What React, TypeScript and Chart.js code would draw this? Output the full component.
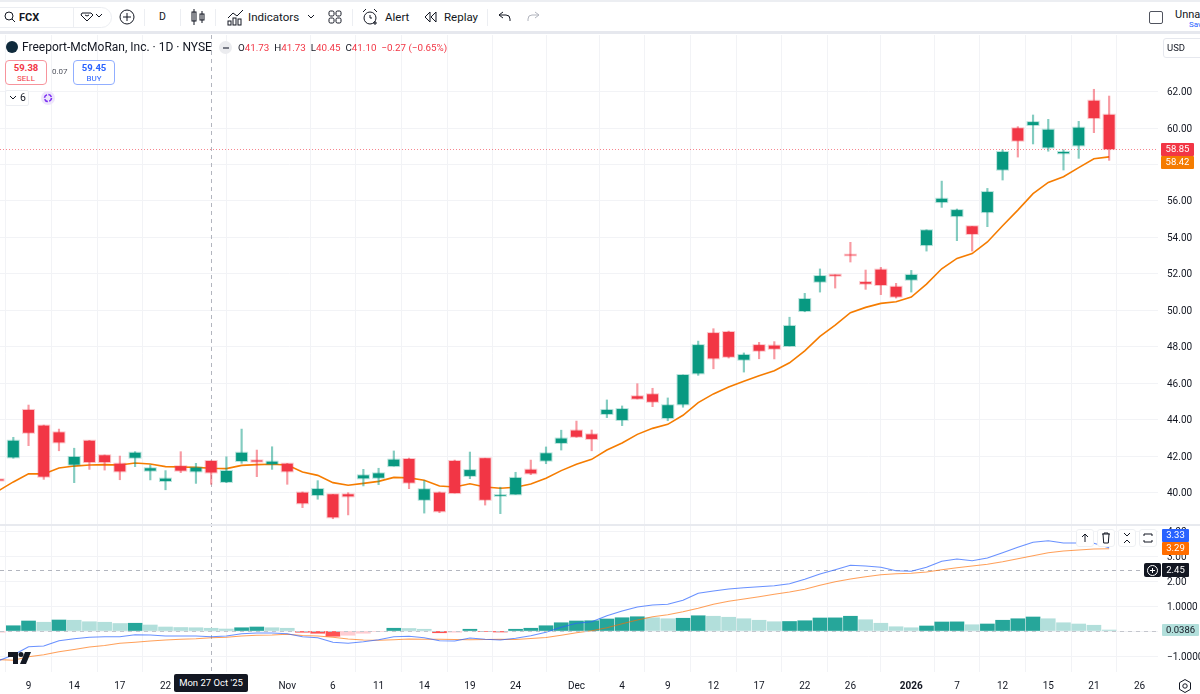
import React, { useEffect, useRef } from "react";
import { Chart, registerables } from "chart.js";

Chart.register(...registerables);

const opens = [40.72,41.93,44.53,43.67,43.30,41.53,42.84,42.04,41.58,41.91,41.20,40.63,41.44,41.16,41.73,40.58,41.73,41.76,41.56,41.58,39.99,39.86,39.90,39.90,40.78,40.81,41.45,41.84,39.60,39.99,41.73,40.91,41.88,39.82,39.90,41.25,41.75,42.72,43.40,43.19,44.31,43.98,45.28,45.39,44.09,44.84,46.54,48.75,48.81,47.29,48.09,48.06,48.04,49.96,51.57,51.95,53.05,51.55,52.23,51.29,51.68,53.58,55.94,55.17,54.61,55.39,57.72,59.99,60.17,58.94,58.62,59.05,61.50,60.73];
const highs = [40.75,43.03,44.80,43.70,43.48,42.43,42.86,42.06,42.00,42.24,41.51,41.20,42.24,41.60,41.73,41.96,43.48,42.33,42.51,41.60,40.03,40.65,39.90,39.99,41.27,41.33,42.28,41.89,40.65,40.03,41.78,42.22,41.88,40.29,41.11,41.78,42.50,43.42,43.92,43.43,45.08,44.75,45.97,45.72,45.19,46.45,48.31,48.99,48.86,47.66,48.24,48.28,49.62,50.93,52.27,51.95,53.73,52.21,52.36,51.48,52.19,54.42,57.09,55.56,54.61,56.69,58.81,60.08,60.72,60.48,58.81,60.37,62.13,61.76];
const lows = [40.63,41.88,42.57,40.72,42.29,40.54,41.27,41.23,40.70,41.42,40.69,40.15,41.09,40.50,40.45,40.54,41.60,40.87,41.27,40.45,39.17,39.63,38.56,38.77,40.36,40.43,41.45,40.21,38.87,38.89,39.97,40.76,39.31,38.84,39.90,40.98,41.58,42.33,43.03,42.29,44.11,43.67,45.13,44.71,43.94,44.68,46.43,46.79,47.38,46.61,47.34,47.33,48.04,49.92,51.00,51.22,52.65,51.15,50.86,50.67,51.00,53.25,55.65,53.82,53.25,54.59,57.15,58.41,59.13,58.73,57.70,58.34,59.75,58.23];
const closes = [40.66,42.84,43.28,40.87,42.75,41.95,41.67,41.67,41.16,42.18,41.33,40.76,41.20,41.36,41.10,41.18,42.18,41.70,41.69,41.16,39.41,40.19,38.64,39.79,40.94,41.05,41.80,40.54,40.18,38.97,39.97,41.23,39.60,39.86,40.80,41.05,42.15,42.96,43.06,42.94,44.53,44.58,45.15,44.98,44.79,46.45,48.09,47.36,47.45,47.55,47.78,47.89,49.14,50.62,51.88,51.90,53.02,51.46,51.39,50.75,51.94,54.39,56.12,55.50,54.19,56.49,58.69,59.31,60.33,59.91,58.69,60.02,60.55,58.85];
const ema = [40.08,40.58,41.03,41.02,41.34,41.45,41.51,41.53,41.51,41.62,41.56,41.42,41.40,41.38,41.33,41.31,41.49,41.53,41.55,41.51,41.12,40.94,40.54,40.40,40.50,40.61,40.83,40.80,40.67,40.36,40.30,40.48,40.30,40.23,40.29,40.47,40.78,41.20,41.55,41.82,42.33,42.72,43.19,43.52,43.74,44.24,44.93,45.41,45.79,46.10,46.41,46.68,47.12,47.77,48.57,49.19,49.87,50.16,50.38,50.47,50.73,51.44,52.28,52.85,53.11,53.75,54.64,55.50,56.40,57.02,57.33,57.83,58.32,58.42];
const macd = [-1.19,-0.96,-0.63,-0.60,-0.39,-0.31,-0.25,-0.23,-0.23,-0.15,-0.16,-0.20,-0.20,-0.20,-0.23,-0.20,-0.11,-0.08,-0.08,-0.11,-0.23,-0.27,-0.45,-0.49,-0.43,-0.35,-0.23,-0.21,-0.27,-0.39,-0.40,-0.28,-0.33,-0.36,-0.29,-0.19,-0.05,0.15,0.31,0.37,0.61,0.80,0.96,1.04,1.07,1.23,1.51,1.60,1.68,1.73,1.77,1.81,1.89,2.07,2.28,2.45,2.63,2.60,2.55,2.41,2.39,2.55,2.79,2.88,2.81,2.92,3.13,3.35,3.55,3.61,3.52,3.52,3.51,3.33];
const signal = [-1.14,-1.17,-1.03,-0.95,-0.83,-0.74,-0.64,-0.58,-0.49,-0.45,-0.40,-0.36,-0.33,-0.31,-0.27,-0.25,-0.20,-0.17,-0.16,-0.13,-0.18,-0.20,-0.25,-0.32,-0.36,-0.37,-0.35,-0.32,-0.33,-0.33,-0.34,-0.35,-0.34,-0.33,-0.34,-0.30,-0.26,-0.17,-0.07,0.01,0.13,0.29,0.44,0.57,0.65,0.77,0.91,1.07,1.19,1.28,1.37,1.47,1.56,1.67,1.83,1.97,2.08,2.17,2.25,2.29,2.31,2.36,2.45,2.53,2.60,2.67,2.77,2.89,3.01,3.13,3.20,3.24,3.28,3.29];
const hist = [-0.05,0.21,0.40,0.35,0.44,0.43,0.37,0.35,0.30,0.31,0.24,0.16,0.14,0.13,0.11,0.08,0.13,0.16,0.13,0.11,-0.05,-0.09,-0.21,-0.17,-0.09,-0.02,0.11,0.10,0.07,-0.07,-0.05,0.07,-0.02,-0.04,0.07,0.11,0.21,0.33,0.40,0.41,0.48,0.53,0.57,0.53,0.49,0.51,0.61,0.59,0.55,0.49,0.43,0.37,0.38,0.41,0.52,0.525,0.59,0.45,0.31,0.17,0.13,0.20,0.36,0.365,0.25,0.28,0.43,0.49,0.56,0.49,0.33,0.28,0.23,0.0386];

const tickIndex = [2,5,8,11,19,22,25,28,31,34,38,41,44,47,50,53,56,60,63,66,69,72,75];
const tickLabels = ["9","14","17","22","Nov","6","11","14","19","24","Dec","4","9","12","17","22","26","2026","7","12","15","21","26"];
const priceTicks = [62,60,58,56,54,52,50,48,46,44,42,40];
const macdTicks = [4,3,2,1,0,-1];
const crosshairIndex = 14;
const crosshairMacd = 2.45;
const lastPrice = 58.85;

const GREEN = "#089981";
const RED = "#F23645";
const FONT = "Roboto, 'Liberation Sans', sans-serif";

const guides = {
  id: "guides",
  beforeDatasetsDraw(chart: any) {
    const { ctx, chartArea: a, scales } = chart;
    ctx.save();
    ctx.lineWidth = 1;
    ctx.strokeStyle = "#b2b5be";
    ctx.setLineDash([4, 4]);
    const cx = Math.round(scales.x.getPixelForValue(crosshairIndex)) + 0.5;
    ctx.beginPath(); ctx.moveTo(cx, a.top); ctx.lineTo(cx, a.bottom); ctx.stroke();
    const cy = Math.round(scales.m.getPixelForValue(crosshairMacd)) + 0.5;
    ctx.beginPath(); ctx.moveTo(a.left, cy); ctx.lineTo(a.right, cy); ctx.stroke();
    ctx.restore();
  },
  afterDatasetsDraw(chart: any) {
    const { ctx, chartArea: a, scales } = chart;
    ctx.save();
    ctx.lineWidth = 1;
    const zy = Math.round(scales.m.getPixelForValue(0)) + 0.5;
    ctx.strokeStyle = "#c4c6cd";
    ctx.setLineDash([4, 4]);
    ctx.beginPath(); ctx.moveTo(a.left, zy); ctx.lineTo(a.right, zy); ctx.stroke();
    const py = Math.round(scales.y.getPixelForValue(lastPrice)) + 0.5;
    ctx.strokeStyle = "rgba(242,54,69,0.6)";
    ctx.setLineDash([1, 2]);
    ctx.beginPath(); ctx.moveTo(a.left, py); ctx.lineTo(a.right, py); ctx.stroke();
    ctx.setLineDash([]);
    ctx.strokeStyle = "#e8eaef";
    ctx.lineWidth = 2;
    const sy = scales.y.bottom;
    ctx.beginPath(); ctx.moveTo(0, sy); ctx.lineTo(1200, sy); ctx.stroke();
    ctx.restore();
  },
};

function T({ x, y, s, c = "#131722", w = 400, children, center, width }: any) {
  return (
    <div style={{ position: "absolute", left: x, top: y, fontSize: s, color: c, fontWeight: w, lineHeight: 1, whiteSpace: "nowrap", width, textAlign: center ? "center" : undefined }}>
      {children}
    </div>
  );
}

function Box({ x, y, w, h, bg, c = "#fff", s = 9.5, children, radius = 1 }: any) {
  return (
    <div style={{ position: "absolute", left: x, top: y, width: w, height: h, background: bg, color: c, fontSize: s, lineHeight: h + "px", textAlign: "center", borderRadius: radius }}>
      {children}
    </div>
  );
}

function Btn({ x, children }: any) {
  return (
    <div style={{ position: "absolute", left: x, top: 529, width: 18, height: 18, background: "#fff", border: "1px solid #eef0f3", borderRadius: 3, boxSizing: "border-box" }}>
      <svg width="16" height="16" viewBox="0 0 16 16" fill="none" stroke="#131722" strokeWidth="1">{children}</svg>
    </div>
  );
}

function Icon({ x, y, w = 18, h = 18, children }: any) {
  return (
    <svg style={{ position: "absolute", left: x, top: y }} width={w} height={h} viewBox={`0 0 ${w} ${h}`} fill="none" stroke="#131722" strokeWidth="1">
      {children}
    </svg>
  );
}

export default function App() {
  const ref = useRef<HTMLCanvasElement>(null);
  useEffect(() => {
    const idx = opens.map((_, i) => i);
    const isUp = (i: number) => closes[i] >= opens[i];
    const histColor = (i: number) => {
      const v = hist[i];
      const prev = i ? hist[i - 1] : v;
      if (v >= 0) return v > prev ? "#26a69a" : "#b2dfdb";
      return v < prev ? "#ff5252" : "#ffcdd2";
    };
    const chart = new Chart(ref.current!, {
      data: {
        datasets: [
          { type: "bar", yAxisID: "m", order: 7, grouped: false, barThickness: 14, data: idx.map((i) => ({ x: i, y: hist[i] })), backgroundColor: idx.map(histColor) },
          { type: "line", yAxisID: "y", order: 6, data: idx.map((i) => ({ x: i, y: ema[i] })), borderColor: "#F57C00", borderWidth: 1.6, pointRadius: 0, tension: 0 },
          { type: "bar", yAxisID: "y", order: 5, grouped: false, barThickness: 1.5, data: idx.map((i) => ({ x: i, y: [lows[i], highs[i]] })), backgroundColor: idx.map((i) => (isUp(i) ? "rgba(8,153,129,0.5)" : "rgba(242,54,69,0.5)")) },
          { type: "bar", yAxisID: "y", order: 4, grouped: false, barThickness: 11, inflateAmount: 1, data: idx.map((i) => ({ x: i, y: [opens[i], closes[i]] })), backgroundColor: idx.map((i) => (isUp(i) ? "rgba(8,153,129,0.28)" : "rgba(242,54,69,0.28)")) },
          { type: "bar", yAxisID: "y", order: 3, grouped: false, barThickness: 11, inflateAmount: 0, data: idx.map((i) => ({ x: i, y: [opens[i], closes[i]] })), backgroundColor: idx.map((i) => (isUp(i) ? GREEN : RED)) },
          { type: "line", yAxisID: "m", order: 2, data: idx.map((i) => ({ x: i, y: signal[i] })), borderColor: "rgba(255,109,0,0.65)", borderWidth: 1.2, pointRadius: 0, tension: 0 },
          { type: "line", yAxisID: "m", order: 1, data: idx.map((i) => ({ x: i, y: macd[i] })), borderColor: "rgba(41,98,255,0.7)", borderWidth: 1.2, pointRadius: 0, tension: 0 },
        ],
      } as any,
      plugins: [guides],
      options: {
        animation: false,
        responsive: false,
        maintainAspectRatio: false,
        layout: { padding: { top: 35, left: 0, right: 0, bottom: 0 } },
        plugins: { legend: { display: false }, tooltip: { enabled: false } },
        scales: {
          x: {
            type: "linear",
            min: 0.125,
            max: 76.21,
            offset: false,
            border: { display: false },
            grid: { color: "#f2f3f6", drawTicks: false },
            afterBuildTicks: (s: any) => { s.ticks = tickIndex.map((value) => ({ value })); },
            afterFit: (s: any) => { s.height = 22; },
            ticks: {
              autoSkip: false,
              maxRotation: 0,
              padding: 8,
              color: "#131722",
              font: (ctx: any) => ({ family: FONT, size: 10, weight: ctx.tick && ctx.tick.value === 60 ? "bold" : "normal" }),
              callback: (v: any) => { const k = tickIndex.indexOf(v); return k < 0 ? "" : tickLabels[k]; },
            },
          },
          y: {
            type: "linear",
            position: "right",
            stack: "panes",
            stackWeight: 490,
            min: 38.216,
            max: 65.11,
            border: { display: false },
            grid: { color: "#f2f3f6", drawTicks: false },
            afterBuildTicks: (s: any) => { s.ticks = priceTicks.map((value) => ({ value })); },
            afterFit: (s: any) => { s.width = 42; },
            ticks: { padding: 9, labelOffset: 1, color: "#131722", font: { family: FONT, size: 10 }, callback: (v: any) => Number(v).toFixed(2) },
          },
          m: {
            type: "linear",
            position: "right",
            stack: "panes",
            stackWeight: 147,
            min: -1.64,
            max: 4.24,
            border: { display: false },
            grid: { color: "#f2f3f6", drawTicks: false },
            afterBuildTicks: (s: any) => { s.ticks = macdTicks.map((value) => ({ value })); },
            afterFit: (s: any) => { s.width = 42; },
            ticks: {
              padding: 9,
              labelOffset: 1,
              color: "#131722",
              font: { family: FONT, size: 10 },
              callback: (v: any) => {
                const n = Number(v);
                if (n === 0) return "";
                if (n < 0) return "\u2212" + Math.abs(n).toFixed(4);
                return n >= 2 ? n.toFixed(2) : n.toFixed(4);
              },
            },
          },
        },
      } as any,
    });
    return () => chart.destroy();
  }, []);

  return (
    <div style={{ position: "absolute", left: 0, top: 0, width: 1200, height: 694, overflow: "hidden", background: "#fff", fontFamily: FONT }}>
      <canvas ref={ref} width={1200} height={694} style={{ position: "absolute", left: 0, top: 0, width: 1200, height: 694 }} />

      {/* top toolbar */}
      <div style={{ position: "absolute", left: 0, top: 0, width: 1200, height: 34, background: "#fff", borderTop: "2px solid #eceef2", borderBottom: "3px solid #e6e8ee", boxSizing: "border-box" }} />
      <Icon x={2} y={10}><circle cx="7" cy="6" r="4" /><path d="M10 9l3 3" /></Icon>
      <T x={19} y={12} s={11} w={700}>FCX</T>
      <div style={{ position: "absolute", left: -20, top: 7, width: 132, height: 21, border: "1px solid #eceef2", borderRadius: 11, boxSizing: "border-box" }} />
      <div style={{ position: "absolute", left: 73, top: 8, width: 1, height: 19, background: "#eceef2" }} />
      <Icon x={80} y={10}><path d="M2 3h9l2 2-6 6-6-6z" /><path d="M5 5l2 1 2-1" /></Icon>
      <Icon x={95} y={12} w={10} h={8}><path d="M1 2l3 3 3-3" /></Icon>
      <Icon x={118} y={8}><circle cx="9" cy="9" r="7" /><path d="M9 5v8M5 9h8" /></Icon>
      <div style={{ position: "absolute", left: 144, top: 9, width: 1, height: 17, background: "#eceef2" }} />
      <T x={159} y={12} s={10.5}>D</T>
      <div style={{ position: "absolute", left: 180, top: 9, width: 1, height: 17, background: "#eceef2" }} />
      <Icon x={190} y={8}><path d="M4 1v16M12 3v12" /><rect x="2" y="4" width="4" height="9" /><rect x="10" y="6" width="4" height="6" /></Icon>
      <div style={{ position: "absolute", left: 215, top: 9, width: 1, height: 17, background: "#eceef2" }} />
      <Icon x={226} y={8} w={19} h={18}><path d="M2 10l5-5 4 3 6-6" /><rect x="2" y="13" width="3" height="4" /><rect x="7" y="10" width="3" height="7" /><rect x="12" y="11" width="3" height="6" /></Icon>
      <T x={248} y={12} s={11.5}>Indicators</T>
      <Icon x={307} y={13} w={10} h={8}><path d="M1 2l3 3 3-3" /></Icon>
      <Icon x={328} y={10} w={14} h={14}><rect x="1" y="1" width="5" height="5" rx="1.5" /><rect x="8" y="1" width="5" height="5" rx="1.5" /><rect x="1" y="8" width="5" height="5" rx="1.5" /><rect x="8" y="8" width="5" height="5" rx="1.5" /></Icon>
      <div style={{ position: "absolute", left: 352, top: 9, width: 1, height: 17, background: "#eceef2" }} />
      <Icon x={362} y={8}><circle cx="8" cy="10" r="6" /><path d="M8 7v3h2M1 4l3-3M12 1l3 3M13 13v4M11 15h4" /></Icon>
      <T x={385} y={12} s={11.5}>Alert</T>
      <Icon x={424} y={10} w={14} h={14}><path d="M6 2L1 7l5 5zM12 2L7 7l5 5z" /></Icon>
      <T x={444} y={12} s={11.5}>Replay</T>
      <div style={{ position: "absolute", left: 487, top: 9, width: 1, height: 17, background: "#eceef2" }} />
      <Icon x={498} y={11} w={14} h={12}><path d="M5 1L1 4l4 3M1 4h7a4 4 0 0 1 4 4v2" /></Icon>
      <Icon x={526} y={11} w={14} h={12}><path d="M9 1l4 3-4 3M13 4H6a4 4 0 0 0-4 4v2" stroke="#b2b5be" /></Icon>
      <div style={{ position: "absolute", left: 1149, top: 11, width: 14, height: 13, border: "1.5px solid #50535e", borderRadius: 2, boxSizing: "border-box" }} />
      <T x={1175} y={9} s={11}>Unnan</T>
      <T x={1189} y={21} s={8} c="#2962ff">Sav</T>

      {/* legend */}
      <div style={{ position: "absolute", left: 6, top: 41, width: 12, height: 12, borderRadius: 6, background: "#0f2a3c" }} />
      <T x={22} y={41} s={12}>Freeport-McMoRan, Inc. · 1D · NYSE</T>
      <div style={{ position: "absolute", left: 219, top: 41, width: 13, height: 13, borderRadius: 7, background: "#ebecef" }} />
      <div style={{ position: "absolute", left: 223, top: 47, width: 6, height: 2, background: "#787b86" }} />
      <div style={{ position: "absolute", left: 238, top: 43, fontSize: 9.8, lineHeight: 1, color: RED, whiteSpace: "pre" }}>
        <span style={{ color: "#131722" }}>O</span>41.73  <span style={{ color: "#131722" }}>H</span>41.73  <span style={{ color: "#131722" }}>L</span>40.45  <span style={{ color: "#131722" }}>C</span>41.10  −0.27 (−0.65%)
      </div>
      <div style={{ position: "absolute", left: 5, top: 60, width: 42, height: 25, background: "#fff", border: "1px solid #f7949c", borderRadius: 4, boxSizing: "border-box", textAlign: "center", color: RED }}>
        <div style={{ fontSize: 9.5, fontWeight: 700, lineHeight: "12px", marginTop: 1 }}>59.38</div>
        <div style={{ fontSize: 8, lineHeight: "9px" }}>SELL</div>
      </div>
      <T x={52} y={68} s={8} c="#50535e">0.07</T>
      <div style={{ position: "absolute", left: 73, top: 60, width: 42, height: 25, background: "#fff", border: "1px solid #91aeff", borderRadius: 4, boxSizing: "border-box", textAlign: "center", color: "#2962ff" }}>
        <div style={{ fontSize: 9.5, fontWeight: 700, lineHeight: "12px", marginTop: 1 }}>59.45</div>
        <div style={{ fontSize: 8, lineHeight: "9px" }}>BUY</div>
      </div>
      <div style={{ position: "absolute", left: 5, top: 90, width: 24, height: 16, background: "#fff", border: "1px solid #eceef2", borderRadius: 2, boxSizing: "border-box" }} />
      <Icon x={9} y={95} w={9} h={7}><path d="M1 1l3 3 3-3" /></Icon>
      <T x={20} y={93} s={10.5}>6</T>
      <div style={{ position: "absolute", left: 41, top: 91, width: 14, height: 14, borderRadius: 7, background: "#eee6fb" }} />
      <Icon x={43} y={93} w={10} h={10}><circle cx="5" cy="5" r="3.5" stroke="#7b2ff2" strokeWidth="1.6" strokeDasharray="4 1.5" /></Icon>

      {/* USD */}
      <div style={{ position: "absolute", left: 1163, top: 38, width: 40, height: 20, background: "#fff", border: "1px solid #e6e8ee", borderRadius: 3, boxSizing: "border-box" }} />
      <T x={1167} y={43} s={9.5}>USD</T>

      {/* price labels */}
      <Box x={1161} y={143} w={33} h={12.5} bg={RED}>58.85</Box>
      <Box x={1161} y={156} w={33} h={12.5} bg="#F57C00">58.42</Box>

      {/* MACD labels */}
      <Box x={1162} y={529} w={27} h={12.5} bg="#2962FF">3.33</Box>
      <Box x={1162} y={542} w={27} h={12.5} bg="#FF6D00">3.29</Box>
      <Box x={1162} y={563} w={27} h={14} bg="#131722">2.45</Box>
      <div style={{ position: "absolute", left: 1144, top: 563, width: 17, height: 14, background: "#131722", borderRadius: 2 }} />
      <Icon x={1146} y={564} w={13} h={13}><g stroke="#fff"><circle cx="6.5" cy="6.5" r="5" /><path d="M6.5 4v5M4 6.5h5" /></g></Icon>
      <Box x={1162} y={623.5} w={37} h={12.5} bg="#b2dfdb" c="#131722">0.0386</Box>

      {/* pane buttons */}
      <Btn x={1076}><path d="M8 12V4M5 7l3-3 3 3" /></Btn>
      <Btn x={1097}><path d="M4 4h8M6 4V3h4v1M5 4l.7 9h4.6l.7-9" /></Btn>
      <Btn x={1118}><path d="M5 3l3 3 3-3M5 13l3-3 3 3" /></Btn>
      <Btn x={1139}><path d="M4 6V4h8v2M4 10v2h8v-2" /></Btn>

      {/* crosshair date */}
      <Box x={174} y={674} w={74} h={18} bg="#131722" s={9.5} radius={2}>Mon 27 Oct '25</Box>

      {/* logo and settings */}
      <svg style={{ position: "absolute", left: 8, top: 652 }} width="23" height="12" viewBox="0 0 23 12">
        <path d="M0 0h10v12H5V5H0z" fill="#131722" />
        <circle cx="13" cy="2.5" r="2.5" fill="#131722" />
        <path d="M17 0h6l-5 12h-6z" fill="#131722" />
      </svg>
      <Icon x={1177} y={678} w={16} h={16}><path d="M8 1.5l5.5 3.2v6.6L8 14.5l-5.5-3.2V4.7z" /><circle cx="8" cy="8" r="2.2" /></Icon>
    </div>
  );
}
